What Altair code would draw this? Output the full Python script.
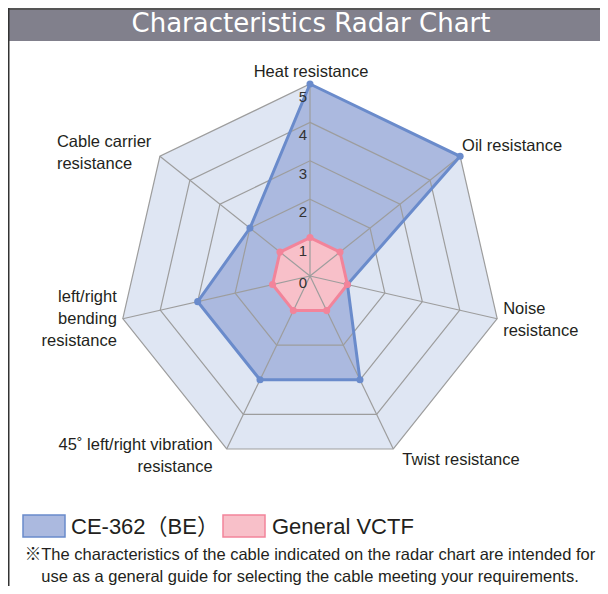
import altair as alt
import pandas as pd

# ---------------- data ----------------
categories = [
    "Heat resistance",
    "Oil resistance",
    "Noise\nresistance",
    "Twist resistance",
    "45˚ left/right vibration\nresistance",
    "left/right\nbending\nresistance",
    "Cable carrier\nresistance",
]
ce362_values = [5, 5, 1, 3, 3, 3, 2]
vctf_values = [1, 1, 1, 1, 1, 1, 1]
series_names = ["CE-362（BE）", "General VCTF"]
tick_values = [0, 1, 2, 3, 4, 5]
title_text = "Characteristics Radar Chart"
note_lines = [
    "※The characteristics of the cable indicated on the radar chart are intended for",
    "use as a general guide for selecting the cable meeting your requirements.",
]

# ---------------- layout / style ----------------
N = len(categories)
W, H = 592, 578
CX, CY = 302, 268
UNIT = 38.4
XDOM = [-CX / UNIT, (W - CX) / UNIT]
YDOM = [-(H - CY) / UNIT, CY / UNIT]
FONT = "Liberation Sans, Arial, Helvetica, Noto Sans CJK JP, sans-serif"
TXT = "#231f20"
GRID = "#9d9d9d"
OUTER_FILL = "#dfe6f3"
BLUE_FILL, BLUE_LINE = "#abb9df", "#6a8bcb"
PINK_FILL, PINK_LINE = "#f8c0c9", "#f2849a"
BAR = "#81808c"

XS = alt.Scale(domain=XDOM, nice=False, zero=False)
YS = alt.Scale(domain=YDOM, nice=False, zero=False)


def X(f):
    return alt.X(f, type="quantitative", scale=XS, axis=None)


def Y(f):
    return alt.Y(f, type="quantitative", scale=YS, axis=None)


XEXPR = f"datum.v * sin(2 * PI * datum.i / {N})"
YEXPR = f"datum.v * cos(2 * PI * datum.i / {N})"

series_df = pd.DataFrame(
    [{"series": series_names[0], "i": i, "v": v} for i, v in enumerate(ce362_values)]
    + [{"series": series_names[1], "i": i, "v": v} for i, v in enumerate(vctf_values)]
)
ring_df = pd.DataFrame([{"r": r, "i": i, "v": r} for r in tick_values if r > 0 for i in range(N)])
spoke_df = pd.DataFrame([{"i": i, "v": max(tick_values)} for i in range(N)])
label_df = pd.DataFrame([{"i": i, "v": max(tick_values), "label": c} for i, c in enumerate(categories)])
tick_df = pd.DataFrame({"t": tick_values})
one = pd.DataFrame({"a": [0]})


def polar(chart):
    return chart.transform_calculate(x=XEXPR, y=YEXPR)


layers = []

# title bar and frame
layers.append(alt.Chart(one).mark_rect(color=BAR).encode(
    x=alt.value(0), x2=alt.value(W), y=alt.value(0), y2=alt.value(33)))
layers.append(alt.Chart(one).mark_rule(color="#555555", strokeWidth=2).encode(
    x=alt.value(0), x2=alt.value(W), y=alt.value(1)))
layers.append(alt.Chart(one).mark_rule(color="#333333", strokeWidth=1.5).encode(
    x=alt.value(0.75), y=alt.value(0), y2=alt.value(H)))
layers.append(alt.Chart(one).mark_text(
    text=title_text, font="DejaVu Sans", fontSize=26, color="white",
    align="center", baseline="middle").encode(x=alt.value(303), y=alt.value(16)))

# outer filled heptagon
layers.append(polar(alt.Chart(ring_df)).transform_filter(f"datum.r == {max(tick_values)}")
              .mark_line(interpolate="linear-closed", fill=OUTER_FILL, stroke=OUTER_FILL, strokeWidth=0)
              .encode(x=X("x"), y=Y("y"), order="i:O"))

# series fills
for name, fill in [(series_names[0], BLUE_FILL), (series_names[1], PINK_FILL)]:
    layers.append(polar(alt.Chart(series_df)).transform_filter(alt.datum.series == name)
                  .mark_line(interpolate="linear-closed", fill=fill, stroke=fill, strokeWidth=0)
                  .encode(x=X("x"), y=Y("y"), order="i:O"))

# grid rings and spokes
layers.append(polar(alt.Chart(ring_df))
              .mark_line(interpolate="linear-closed", stroke=GRID, strokeWidth=1.2, fill=None)
              .encode(x=X("x"), y=Y("y"), detail="r:N", order="i:O"))
layers.append(polar(alt.Chart(spoke_df)).transform_calculate(x0="0", y0="0")
              .mark_rule(color=GRID, strokeWidth=1.2)
              .encode(x=X("x0"), y=Y("y0"), x2="x:Q", y2="y:Q"))

# series outlines and points
for name, line in [(series_names[0], BLUE_LINE), (series_names[1], PINK_LINE)]:
    base = polar(alt.Chart(series_df)).transform_filter(alt.datum.series == name)
    layers.append(base.mark_line(interpolate="linear-closed", stroke=line, strokeWidth=3, fill=None)
                  .encode(x=X("x"), y=Y("y"), order="i:O"))
    layers.append(base.mark_circle(color=line, opacity=1, size=50)
                  .encode(x=X("x"), y=Y("y")))

# tick labels
layers.append(alt.Chart(tick_df).transform_filter("datum.t > 0").transform_calculate(x0="0")
              .mark_text(font=FONT, fontSize=15, color="#333333", align="right", baseline="middle",
                         dx=-3, dy=13)
              .encode(x=X("x0"), y=Y("t"), text="t:Q"))
layers.append(alt.Chart(tick_df).transform_filter("datum.t == 0").transform_calculate(x0="0")
              .mark_text(font=FONT, fontSize=15, color="#333333", align="right", baseline="middle",
                         dx=-3, dy=7)
              .encode(x=X("x0"), y=Y("t"), text="t:Q"))

# category labels
label_style = [
    ("center", 1, -12),
    ("left", 2, -10),
    ("left", 6, -10),
    ("left", 9, 11),
    ("right", -14, -4),
    ("right", -6, -22),
    ("left", -103, -14),
]
for i, (al, dx, dy) in enumerate(label_style):
    layers.append(polar(alt.Chart(label_df)).transform_filter(f"datum.i == {i}")
                  .mark_text(font=FONT, fontSize=16.5, color=TXT, align=al, baseline="middle",
                             dx=dx, dy=dy, lineBreak="\n", lineHeight=22)
                  .encode(x=X("x"), y=Y("y"), text="label:N"))

# legend
leg = [(series_names[0], BLUE_FILL, BLUE_LINE, 15, 63), (series_names[1], PINK_FILL, PINK_LINE, 215, 264)]
for name, fill, line, sx, tx in leg:
    layers.append(alt.Chart(one).mark_rect(fill=fill, stroke=line, strokeWidth=1.5).encode(
        x=alt.value(sx), x2=alt.value(sx + 42), y=alt.value(507), y2=alt.value(529)))
    layers.append(alt.Chart(one).mark_text(text=name, font=FONT, fontSize=22, color=TXT,
                                           align="left", baseline="middle").encode(
        x=alt.value(tx), y=alt.value(519)))

# notes
for k, line_txt in enumerate(note_lines):
    layers.append(alt.Chart(one).mark_text(text=line_txt, font=FONT, fontSize=16.5, color=TXT,
                                           align="center", baseline="middle").encode(
        x=alt.value(302), y=alt.value(547 + 22 * k)))

chart = alt.layer(*layers).properties(
    width=W, height=H, autosize=alt.AutoSizeParams(type="none"), padding=0, background="white"
).configure_view(stroke=None)

chart.save("out.html", embed_options={"renderer": "svg", "actions": False})
